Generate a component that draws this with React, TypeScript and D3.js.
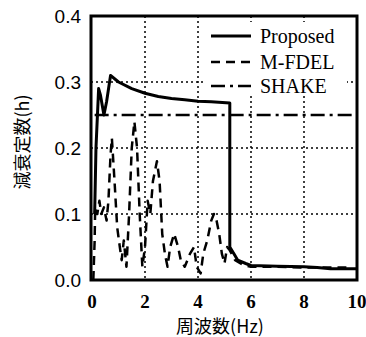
import React from "react";
import * as d3 from "d3";

const xTicks = [0, 2, 4, 6, 8, 10];
const yTicks = [0.0, 0.1, 0.2, 0.3, 0.4];
const gridX = [2, 4, 6, 8];
const gridY = [0.1, 0.2, 0.3];

const proposedX = [0.1, 0.15, 0.25, 0.32, 0.45, 0.55, 0.7, 1.0, 1.5, 2, 2.5, 3, 3.5, 4, 4.5, 5.2, 5.2, 5.35, 5.5, 5.8, 6, 7, 8, 8.5, 9, 10];
const proposedY = [0.1, 0.2, 0.29, 0.28, 0.25, 0.27, 0.31, 0.3, 0.29, 0.283, 0.278, 0.275, 0.273, 0.271, 0.27, 0.268, 0.05, 0.04, 0.03, 0.025, 0.022, 0.021, 0.02, 0.019, 0.017, 0.017];

const mfdelX = [0.05, 0.1, 0.12, 0.2, 0.28, 0.35, 0.45, 0.55, 0.62, 0.7, 0.75, 0.85, 0.95, 1.05, 1.12, 1.2, 1.3, 1.4, 1.5, 1.6, 1.7, 1.8, 1.9, 2.0, 2.1, 2.2, 2.3, 2.45, 2.55, 2.65, 2.75, 2.85, 2.95, 3.1, 3.25, 3.35, 3.5, 3.7, 3.85, 3.95, 4.1, 4.2, 4.35, 4.5, 4.6, 4.7, 4.8, 4.9, 5.0, 5.1, 5.2, 5.4, 5.7, 6.0, 7.0, 8.0, 9.0, 9.6];
const mfdelY = [0.0, 0.06, 0.11, 0.1, 0.12, 0.1, 0.11, 0.09, 0.12, 0.19, 0.215, 0.15, 0.08, 0.05, 0.03, 0.06, 0.02, 0.1, 0.2, 0.24, 0.2, 0.1, 0.02, 0.05, 0.12, 0.1, 0.15, 0.18, 0.15, 0.07, 0.04, 0.02, 0.05, 0.07, 0.05, 0.03, 0.02, 0.04, 0.05, 0.02, 0.01, 0.04, 0.06, 0.09, 0.1, 0.09, 0.07, 0.04, 0.025, 0.05, 0.045, 0.03, 0.023, 0.02, 0.02, 0.019, 0.019, 0.019];

const shakeX = [0.1, 10];
const shakeY = [0.25, 0.25];

const legendLabels = ["Proposed", "M-FDEL", "SHAKE"];
const xTitle = "周波数(Hz)";
const yTitle = "減衰定数(h)";

const W = 366, H = 337;
const L = 91, R = 357, T = 16, B = 280;

export default function App() {
  const x = d3.scaleLinear().domain([0, 10]).range([L + 1, R]);
  const y = d3.scaleLinear().domain([0, 0.4]).range([B, T]);
  const line = d3.line<[number, number]>().x(d => x(d[0])).y(d => y(d[1]));
  const zip = (a: number[], b: number[]) => a.map((v, i) => [v, b[i]] as [number, number]);
  const dashes = ["", "9,6", "14,5,3,5"];
  const widths = [3, 2.5, 2.5];
  const series = [zip(proposedX, proposedY), zip(mfdelX, mfdelY), zip(shakeX, shakeY)];
  const legY = [36, 62, 86];
  return (
    <svg width={W} height={H} style={{ position: "absolute", left: 0, top: 0, background: "#fff" }}>
      <rect x={0} y={0} width={W} height={H} fill="#fff" />
      {gridX.map(g => (
        <line key={"gx" + g} x1={x(g)} x2={x(g)} y1={T} y2={B} stroke="#000" strokeWidth={1.5} strokeDasharray="2,3" />
      ))}
      {gridY.map(g => (
        <line key={"gy" + g} x1={L} x2={R} y1={y(g)} y2={y(g)} stroke="#000" strokeWidth={1.5} strokeDasharray="2,3" />
      ))}
      {series.map((s, i) => (
        <path key={"s" + i} d={line(s) || ""} fill="none" stroke="#000" strokeWidth={widths[i]} strokeDasharray={dashes[i]} strokeLinejoin="round" />
      ))}
      <rect x={204} y={22} width={143} height={74} fill="#fff" />
      {legendLabels.map((lab, i) => (
        <g key={lab}>
          <line x1={211} x2={251} y1={legY[i]} y2={legY[i]} stroke="#000" strokeWidth={widths[i]} strokeDasharray={dashes[i]} />
          <text x={260} y={legY[i] + 7} fontFamily="Liberation Serif" fontSize={20} fill="#000">{lab}</text>
        </g>
      ))}
      <rect x={L} y={T} width={R - L} height={B - T} fill="none" stroke="#000" strokeWidth={3} />
      {yTicks.map(t => (
        <text key={"yt" + t} x={81} y={y(t) + 7} textAnchor="end" fontFamily="Liberation Sans" fontSize={19} fill="#000">{t.toFixed(1)}</text>
      ))}
      {xTicks.map(t => (
        <text key={"xt" + t} x={x(t)} y={308} textAnchor="middle" fontFamily="Liberation Serif" fontSize={19} fontWeight="bold" fill="#000">{t}</text>
      ))}
      <text x={220} y={333} textAnchor="middle" fontFamily="Noto Sans CJK JP" fontSize={18} fill="#000">{xTitle}</text>
      <text transform={`translate(29,142) rotate(-90)`} textAnchor="middle" fontFamily="Noto Sans CJK JP" fontSize={18} fill="#000">{yTitle}</text>
    </svg>
  );
}
